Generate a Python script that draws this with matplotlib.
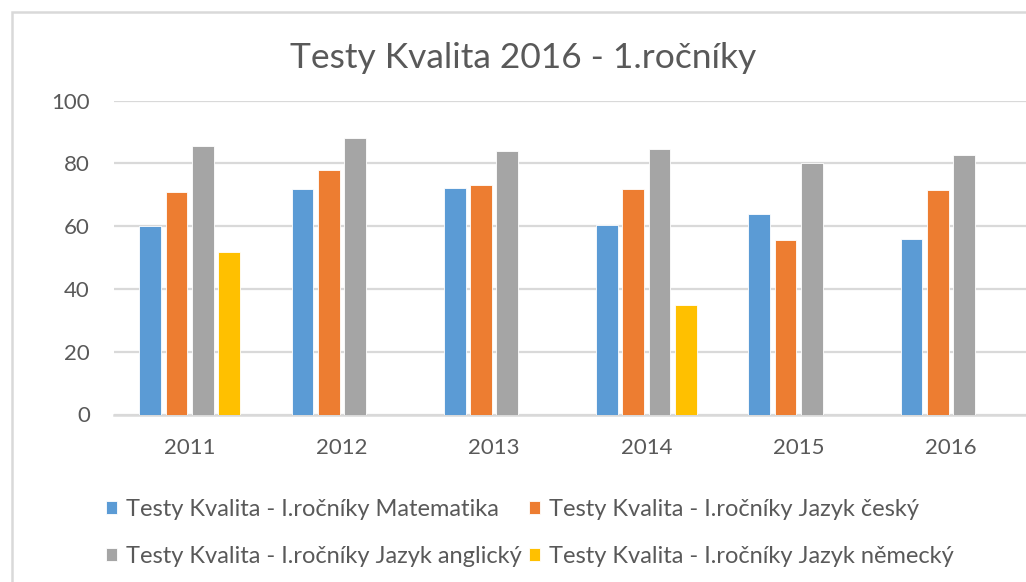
import matplotlib.pyplot as plt
import matplotlib.patches as mpatches
import numpy as np

# data
years = ["2011", "2012", "2013", "2014", "2015", "2016"]
matematika = [60.0, 71.8, 72.2, 60.3, 64.0, 55.8]
cesky = [70.9, 77.9, 73.0, 71.9, 55.5, 71.4]
anglicky = [85.7, 88.1, 84.1, 84.5, 80.0, 82.8]
nemecky = [51.7, np.nan, np.nan, 34.9, np.nan, np.nan]

series_names = [
    "Testy Kvalita - I.ročníky Matematika",
    "Testy Kvalita - I.ročníky Jazyk český",
    "Testy Kvalita - I.ročníky Jazyk anglický",
    "Testy Kvalita - I.ročníky Jazyk německý",
]
colors = ["#5b9bd5", "#ed7d31", "#a5a5a5", "#ffc000"]

plt.rcParams['font.family'] = ['Lato', 'DejaVu Sans']

fig = plt.figure(figsize=(10.26, 5.82), dpi=100)
W, H = 1026.0, 582.0
ax = fig.add_axes([113.5 / W, (H - 414.5) / H, (1027 - 113.5) / W, (414.5 - 100.7) / H])

x = np.arange(len(years))
slot = 0.1725
all_series = [matematika, cesky, anglicky, nemecky]
handles = []
for i, vals in enumerate(all_series):
    off = (i - 1.5) * slot
    b = ax.bar(x + off, vals, width=slot * 0.83, color=colors[i],
               edgecolor="white", linewidth=0.6, zorder=3, label=series_names[i])
    handles.append(b)

ax.set_xlim(-0.5, len(years) - 0.5)
ax.set_ylim(0, 100)
ax.set_yticks(range(0, 101, 20))
ax.set_xticks(x)
ax.set_xticklabels(years)
ax.tick_params(axis="both", length=0, labelsize=16, labelcolor="#595959")
ax.tick_params(axis="y", pad=17)
ax.tick_params(axis="x", pad=17)
ax.yaxis.grid(True, color="#d9d9d9", linewidth=1.6, zorder=0)
ax.set_axisbelow(True)
for s in ["top", "right", "left"]:
    ax.spines[s].set_visible(False)
ax.spines["bottom"].set_color("#d9d9d9")
ax.spines["bottom"].set_linewidth(1.8)

fig.text(523 / W, 1 - 58 / H, "Testy Kvalita 2016 - 1.ročníky", ha="center", va="center",
         fontsize=25.5, color="#595959")

# legend, row-wise order
order = [0, 2, 1, 3]
leg = fig.legend([handles[k] for k in order], [series_names[k] for k in order],
                 ncol=2, loc="center left", bbox_to_anchor=(85 / W, 1 - 533 / H),
                 frameon=False, fontsize=17, handlelength=0.45, handleheight=0.45,
                 handletextpad=0.4, columnspacing=0.3, labelspacing=1.1, labelcolor="#595959")

# chart frame
frame = mpatches.Rectangle((11.5 / W, -0.2), 1.2, 1.2 - 12 / H, transform=fig.transFigure,
                           fill=False, edgecolor="#d9d9d9", linewidth=1.8, clip_on=False)
fig.patches.append(frame)

fig.savefig("out.png", dpi=100, facecolor="white")
